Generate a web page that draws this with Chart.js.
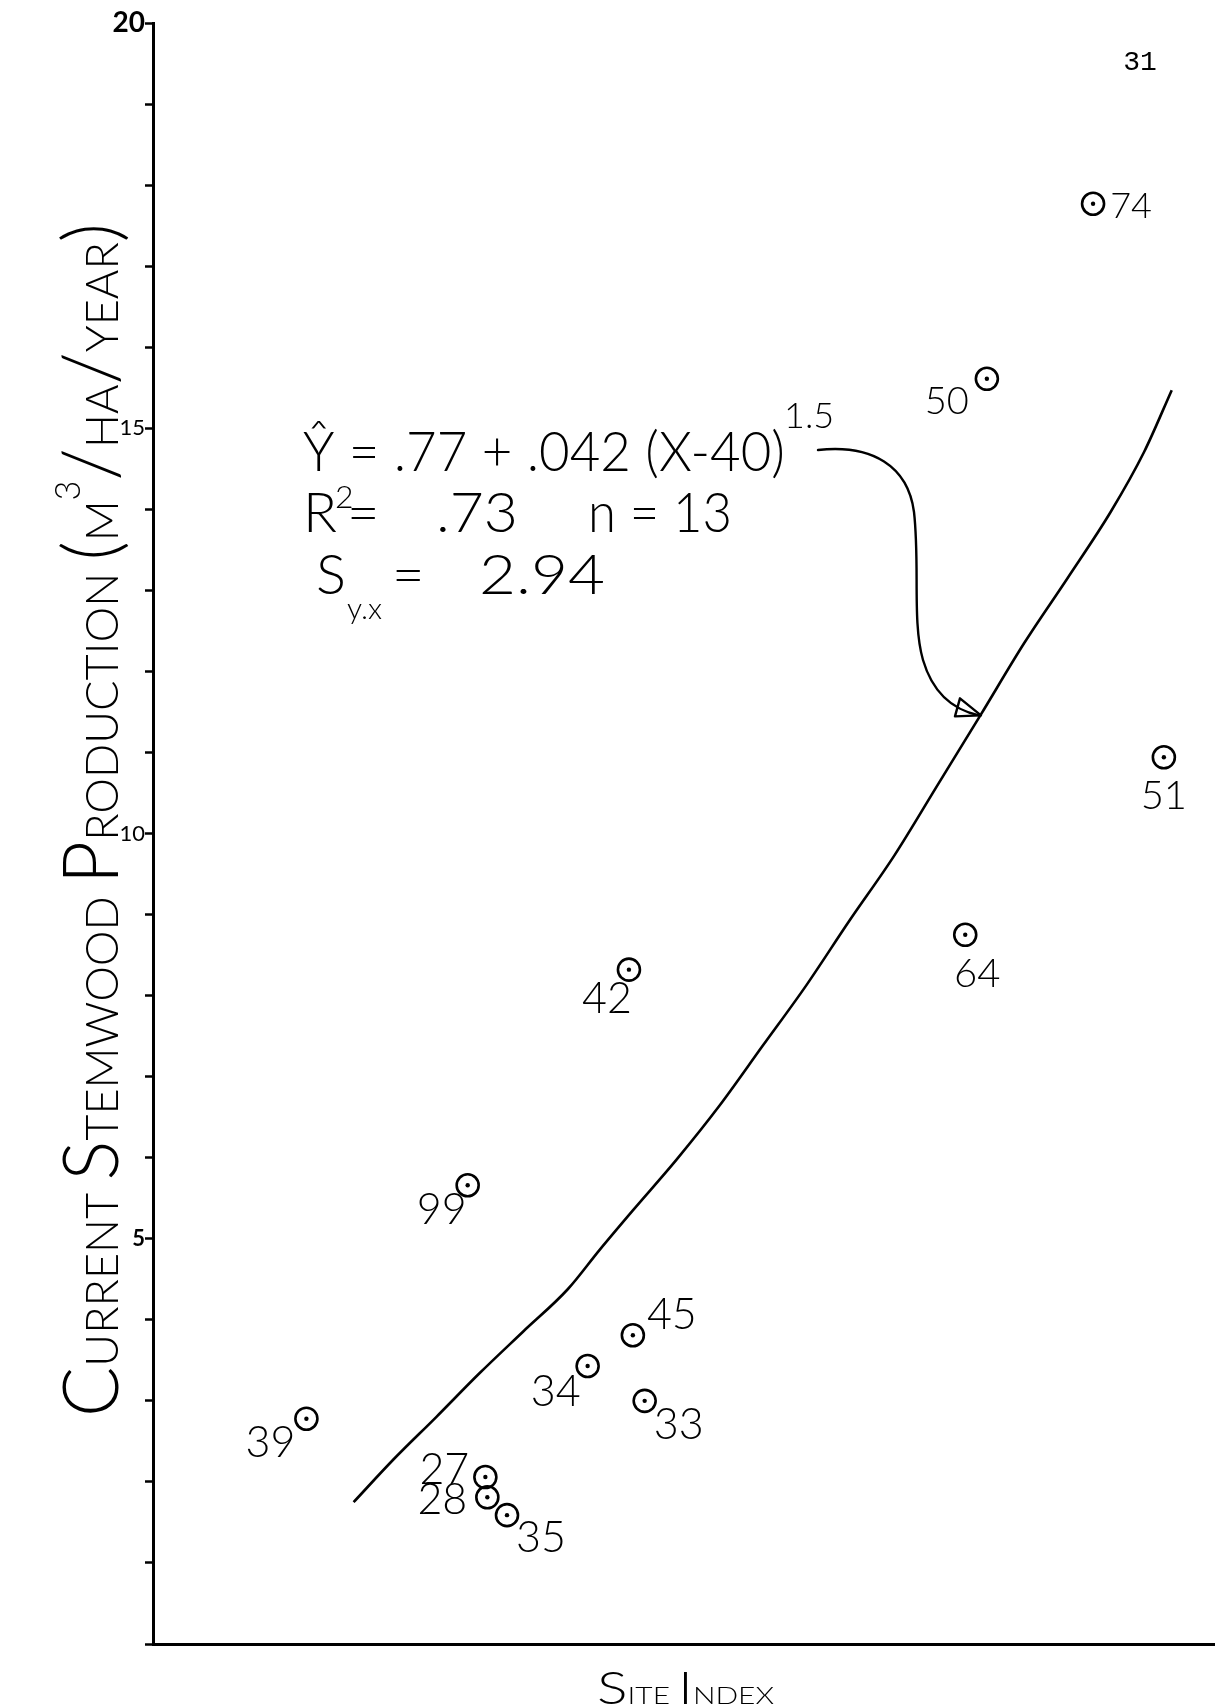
<!DOCTYPE html>
<html><head><meta charset="utf-8">
<script src="https://cdn.jsdelivr.net/npm/chart.js@4.4.1/dist/chart.umd.min.js"></script>
<style>html,body{margin:0;padding:0;background:#fff}#wrap{width:1215px;height:1708px}</style>
</head><body><div id="wrap"><canvas id="c" width="1215" height="1708"></canvas></div>
<script>
// ---- data ----
const plotIds    = ['74','50','51','64','42','99','45','34','33','39','27','28','35'];
const siteIndex  = [85.8, 80.4, 89.4, 79.3, 62.2, 54.0, 62.4, 60.1, 63.0, 45.8, 54.9, 55.0, 56.0];
const production = [17.77,15.61,10.94, 8.75, 8.32, 5.66, 3.81, 3.43, 3.00, 2.78, 2.06, 1.81, 1.59];
const curveX = [48.2,50.2,52.4,54.6,56.8,59.1,60.7,62.4,64.6,66.8,69.0,71.2,73.4,75.7,77.9,80.1,82.3,84.5,86.7,88.4,89.8];
const curveY = [1.75,2.27,2.80,3.34,3.85,4.38,4.86,5.35,5.97,6.64,7.38,8.12,8.92,9.73,10.60,11.47,12.35,13.15,13.97,14.71,15.47];
const yTickLabels = [5,10,15,20];
const yTitle = 'Current Stemwood Production (m³/ha/year)';
const xTitle = 'Site Index';
const pageNo = '31';
const arrowTarget = {x: 80.1, y: 11.47};

// ---- label placement and size (layout only) ----
const labelOffsets = {'74':[38,0],'50':[-40,20],'51':[0,36],'64':[12,36],'42':[-22,26],'99':[-26,22],
  '45':[39,-23],'34':[-32,23],'33':[34,21],'39':[-36,21],'27':[-41,-10],'28':[-45,0],'35':[34,20]};
const labelSizes = {'74':36,'50':38,'51':40,'64':40};

const FAM = 'Lato, "DejaVu Sans", sans-serif';
const W = '300';

function scSegments(str, big, small){
  const segs=[];
  for (const ch of str){
    let t, size, dy=0;
    if (ch==='³'){ t='3'; size=Math.round(small*0.75); dy=-Math.round(big*0.5); }
    else if (/[A-Z(\/)]/.test(ch)){ t=ch; size=big; }
    else { t=ch.toUpperCase(); size=small; }
    const last=segs[segs.length-1];
    if(last && last.size===size && last.dy===dy) last.t+=t; else segs.push({t,size,dy});
  }
  return segs;
}
function drawSC(ctx, str, x, y, big, small, targetW, rotate){
  const segs = scSegments(str,big,small);
  let w=0;
  segs.forEach(s=>{ctx.font=`${W} ${s.size}px ${FAM}`; s.w=ctx.measureText(s.t).width; w+=s.w;});
  const k = targetW ? targetW/w : 1;
  ctx.save(); ctx.translate(x,y); if(rotate) ctx.rotate(-Math.PI/2); ctx.scale(k,1);
  ctx.textBaseline='alphabetic'; ctx.textAlign='left';
  let cx=0;
  segs.forEach(s=>{ctx.font=`${W} ${s.size}px ${FAM}`; ctx.fillText(s.t,cx,s.dy); cx+=s.w;});
  ctx.restore();
}
function txt(ctx, str, x, y, size, targetW){
  ctx.font=`${W} ${size}px ${FAM}`;
  const w = ctx.measureText(str).width;
  const k = targetW ? targetW/w : 1;
  ctx.save(); ctx.translate(x,y); ctx.scale(k,1);
  ctx.textAlign='left'; ctx.textBaseline='alphabetic';
  ctx.fillText(str,0,0); ctx.restore();
}

const annot = {
  id:'annot',
  afterDatasetsDraw(chart){
    const ctx = chart.ctx;
    ctx.save();
    ctx.fillStyle='#000'; ctx.strokeStyle='#000';
    // point labels
    const meta = chart.getDatasetMeta(1);
    ctx.textAlign='center'; ctx.textBaseline='middle';
    meta.data.forEach((el,i)=>{
      const id = plotIds[i];
      const o = labelOffsets[id] || [30,0];
      ctx.font = `${W} ${labelSizes[id] || 43}px ${FAM}`;
      ctx.fillText(id, el.x+o[0], el.y+o[1]+3);
    });
    // equation
    txt(ctx,'Ŷ = .77 + .042 (X-40)',303,471,56,482);
    txt(ctx,'1.5',784,428,36);
    txt(ctx,'R',303,532,56);
    txt(ctx,'2',335,508,32);
    txt(ctx,'=',347,532,56);
    txt(ctx,'.73',436,532,56,82);
    txt(ctx,'n = 13',588,532,56,144);
    txt(ctx,'S',316,594,56);
    txt(ctx,'y.x',347,619,30);
    txt(ctx,'=',392,594,56);
    txt(ctx,'2.94',479,594,56,126);
    // arrow
    const xs=chart.scales.x, ys=chart.scales.y;
    const tx=xs.getPixelForValue(arrowTarget.x), ty=ys.getPixelForValue(arrowTarget.y);
    ctx.lineWidth=2.4; ctx.lineCap='round'; ctx.lineJoin='round';
    ctx.beginPath();
    ctx.moveTo(818,450);
    ctx.bezierCurveTo(872,444,908,466,914,512);
    ctx.bezierCurveTo(920,565,912,622,923,660);
    ctx.bezierCurveTo(933,694,954,710,tx-2,ty+1);
    ctx.stroke();
    ctx.beginPath();
    ctx.moveTo(tx,ty+1); ctx.lineTo(tx-21,ty-16); ctx.lineTo(tx-26,ty+2); ctx.closePath(); ctx.stroke();
    ctx.restore();
  },
  afterDraw(chart){
    const ctx = chart.ctx;
    ctx.save(); ctx.fillStyle='#000';
    drawSC(ctx, yTitle, 118, 1417, 76, 46, 1194, true);
    drawSC(ctx, xTitle, 597, 1704, 46, 24, 177, false);
    ctx.font='28px "Liberation Mono", monospace'; ctx.textAlign='center'; ctx.textBaseline='middle';
    ctx.fillText(pageNo, 1140, 63);
    ctx.restore();
  }
};

const pts = siteIndex.map((x,i)=>({x, y:production[i]}));
new Chart(document.getElementById('c').getContext('2d'), {
  type:'scatter',
  data:{datasets:[
    {label:'fit', data: curveX.map((x,i)=>({x, y:curveY[i]})), showLine:true, borderColor:'#000',
     borderWidth:2.6, pointRadius:0, cubicInterpolationMode:'monotone', fill:false},
    {label:'plots', data: pts, pointStyle:'circle', pointRadius:11, borderColor:'#000',
     borderWidth:2.6, backgroundColor:'rgba(255,255,255,0)'},
    {label:'centres', data: pts, pointStyle:'circle', pointRadius:2.2, backgroundColor:'#000', borderWidth:0}
  ]},
  options:{
    responsive:false, animation:false, events:[],
    layout:{autoPadding:false, padding:{top:23,right:0,left:0,bottom:0}},
    plugins:{legend:{display:false}, tooltip:{enabled:false}, title:{display:false}},
    scales:{
      x:{type:'linear', min:38, max:92, ticks:{display:false}, grid:{display:false},
         border:{display:true,color:'#000',width:3}, afterFit:s=>{s.height=64;}},
      y:{type:'linear', min:0, max:20,
         ticks:{stepSize:1, autoSkip:false, color:'#000', padding:0,
                font:c=>({family:'Lato', size:(c.tick && c.tick.value===20)?28:22, weight:(c.tick && (c.tick.value===20||c.tick.value===5))?'bold':'normal'}),
                callback:v=> yTickLabels.includes(v) ? String(v) : ''},
         grid:{display:true, drawOnChartArea:false, drawTicks:true, tickLength:8, tickColor:'#000', tickWidth:2.5},
         border:{display:true,color:'#000',width:3}, afterFit:s=>{s.width=153;}}
    }
  },
  plugins:[annot]
});
</script></body></html>
